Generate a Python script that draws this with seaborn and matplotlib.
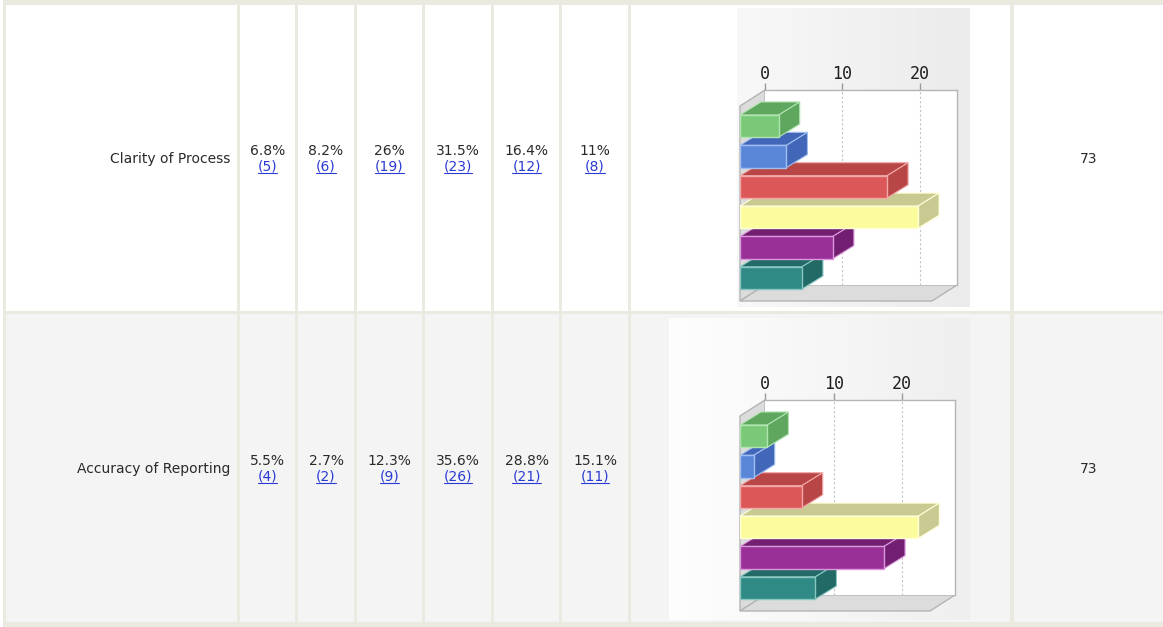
import numpy as np
import pandas as pd
import seaborn as sns
import matplotlib.pyplot as plt
from matplotlib.patches import Rectangle, Polygon
from matplotlib.lines import Line2D
from matplotlib.colors import LinearSegmentedColormap
from matplotlib.transforms import IdentityTransform

W, H = 1163, 627

questions = ["Clarity of Process", "Accuracy of Reporting"]
options = ["1", "2", "3", "4", "5", "6"]
clarity_counts = [5, 6, 19, 23, 12, 8]
accuracy_counts = [4, 2, 9, 26, 21, 11]
clarity_pct = ["6.8%", "8.2%", "26%", "31.5%", "16.4%", "11%"]
accuracy_pct = ["5.5%", "2.7%", "12.3%", "35.6%", "28.8%", "15.1%"]
totals = [73, 73]
x_ticks = [0, 10, 20]

front_colors = ["#79c979", "#5a86d8", "#dc5858", "#fcfc9c", "#983098", "#2f8a86"]
side_colors = ["#5fa65f", "#4266b8", "#b84646", "#c9c992", "#721f72", "#226a66"]
edge_colors = ["#b0e4b0", "#a0bff0", "#f2a8a8", "#ffffd8", "#dc98dc", "#88c6c2"]

BORDER = "#ebeae1"
ROW_BG = ["#ffffff", "#f4f4f4"]
TEXT = "#2a2a2a"
LINK = "#2a3ad4"
FS = 10
col_edges = [(6, 237), (240, 295), (298, 354), (357, 422), (425, 491),
             (494, 559), (562, 628), (631, 1010), (1014, 1163)]
row_edges = [(5, 311), (314, 622)]

DX, DY = 25, 16     # wall / floor depth in pixels
BDX, BDY = 21, 13   # bar depth in pixels


def px_axes(fig, x0, y0, x1, y1):
    return fig.add_axes([x0 / W, 1 - y1 / H, (x1 - x0) / W, (y1 - y0) / H])


sns.set_style("white")
plt.rcParams["font.family"] = ["DejaVu Sans"]

fig = plt.figure(figsize=(W / 100, H / 100), dpi=100)
fig.patch.set_facecolor("white")

bg = fig.add_axes([0, 0, 1, 1])
bg.set_xlim(0, W)
bg.set_ylim(H, 0)
bg.axis("off")
bg.add_patch(Rectangle((3, 0), W, H, color=BORDER, lw=0))
for r, (top, bot) in enumerate(row_edges):
    for left, right in col_edges:
        bg.add_patch(Rectangle((left, top), right - left, bot - top,
                               color=ROW_BG[r], lw=0))

# text cells
rows = [
    (questions[0], clarity_pct, clarity_counts, totals[0]),
    (questions[1], accuracy_pct, accuracy_counts, totals[1]),
]
links = []
for r, (q, pcts, cnts, tot) in enumerate(rows):
    top, bot = row_edges[r]
    yc = (top + bot) / 2
    bg.text(230, yc + 1, q, ha="right", va="center", fontsize=FS, color=TEXT)
    for c in range(6):
        left, right = col_edges[c + 1]
        xc = (left + right) / 2
        bg.text(xc, yc - 7, pcts[c], ha="center", va="center",
                fontsize=FS, color=TEXT)
        links.append(bg.text(xc, yc + 9, f"({cnts[c]})", ha="center",
                             va="center", fontsize=FS, color=LINK))
    left, right = col_edges[-1]
    bg.text((left + right) / 2, yc + 1, str(tot), ha="center", va="center",
            fontsize=FS, color=TEXT)

# embedded 3d bar charts
charts = [
    dict(counts=clarity_counts, img=(737, 8, 970, 307), back=(765, 90, 957, 285),
         xmax=24.8, grad=("#f8f8f8", "#ebebeb")),
    dict(counts=accuracy_counts, img=(669, 318, 970, 620), back=(765, 400, 955, 595),
         xmax=27.7, grad=("#fefefe", "#efefef")),
]

for ch in charts:
    ix0, iy0, ix1, iy1 = ch["img"]
    bx0, by0, bx1, by1 = ch["back"]

    img_ax = px_axes(fig, ix0, iy0, ix1, iy1)
    cmap = LinearSegmentedColormap.from_list("g", list(ch["grad"]))
    img_ax.imshow(np.linspace(0, 1, 256)[None, :], cmap=cmap, aspect="auto",
                  extent=(ix0, ix1, iy1, iy0), zorder=0)
    img_ax.set_xlim(ix0, ix1)
    img_ax.set_ylim(iy1, iy0)
    img_ax.axis("off")
    wall = [(bx0 - DX, by0 + DY), (bx0, by0), (bx0, by1), (bx0 - DX, by1 + DY)]
    floor = [(bx0 - DX, by1 + DY), (bx0, by1), (bx1, by1), (bx1 - DX, by1 + DY)]
    for poly in (wall, floor):
        img_ax.add_patch(Polygon(poly, closed=True, facecolor="#dcdcdc",
                                 edgecolor="#b4b4b4", lw=1, zorder=2))

    back = px_axes(fig, bx0, by0, bx1, by1)
    back.set_facecolor("white")
    back.set_xlim(0, ch["xmax"])
    back.set_ylim(0, 1)
    back.set_yticks([])
    back.xaxis.tick_top()
    back.set_xticks(x_ticks)
    back.set_xticklabels([str(t) for t in x_ticks], family="DejaVu Sans Mono",
                         fontsize=12, color="#1e1e1e")
    back.tick_params(axis="x", direction="out", length=5, width=1,
                     color="#999999", pad=0)
    for v in x_ticks[1:]:
        back.axvline(v, color="#c4c4c4", ls=(0, (2, 2)), lw=0.8)
    for side in ("left", "bottom"):
        back.spines[side].set_visible(False)
    for side in ("top", "right"):
        back.spines[side].set_color("#b4b4b4")
        back.spines[side].set_linewidth(1)

    front = px_axes(fig, bx0 - DX, by0 + DY, bx1 - DX, by1 + DY)
    front.patch.set_alpha(0)
    df = pd.DataFrame({"option": options, "count": ch["counts"]})
    sns.barplot(data=df, x="count", y="option", hue="option", order=options,
                hue_order=options, palette=front_colors, orient="h", width=0.73,
                legend=False, ax=front, saturation=1)
    front.set_xlim(0, ch["xmax"])
    front.set_ylim(5.76, -0.66)
    front.axis("off")

    for p in front.patches:
        k = int(round(p.get_y() + p.get_height() / 2))
        z = 10 + (5 - k) * 2
        p.set_edgecolor(edge_colors[k])
        p.set_linewidth(1)
        p.set_zorder(z + 1)
        bb = p.get_window_extent()
        x0, y0, x1, y1 = bb.x0, bb.y0, bb.x1, bb.y1
        top_face = [(x0, y1), (x1, y1), (x1 + BDX, y1 + BDY), (x0 + BDX, y1 + BDY)]
        side_face = [(x1, y0), (x1 + BDX, y0 + BDY), (x1 + BDX, y1 + BDY), (x1, y1)]
        for face in (top_face, side_face):
            poly = Polygon(face, closed=True, facecolor=side_colors[k],
                           edgecolor=edge_colors[k], lw=0.8,
                           transform=IdentityTransform(), zorder=z)
            poly.set_clip_on(False)
            front.add_artist(poly)

# underline the count links
fig.canvas.draw()
renderer = fig.canvas.get_renderer()
for t in links:
    bb = t.get_window_extent(renderer)
    fig.add_artist(Line2D([bb.x0, bb.x1], [bb.y0 + 1, bb.y0 + 1], color=LINK,
                          lw=0.8, transform=IdentityTransform()))

fig.savefig("out.png", dpi=100)
